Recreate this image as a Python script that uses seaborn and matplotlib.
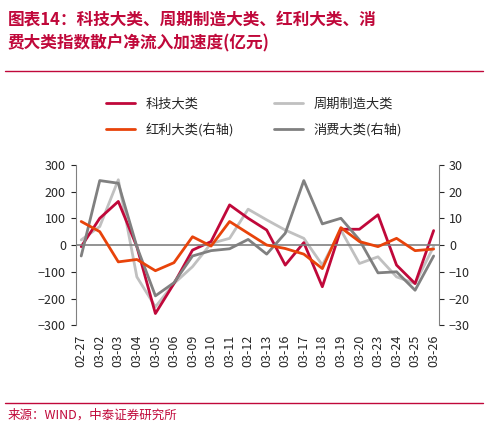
import numpy as np
import pandas as pd
import matplotlib.pyplot as plt
import seaborn as sns

dates = ['02-27', '03-02', '03-03', '03-04', '03-05', '03-06', '03-09', '03-10', '03-11', '03-12',
         '03-13', '03-16', '03-17', '03-18', '03-19', '03-20', '03-23', '03-24', '03-25', '03-26']
tech = [-6, 100, 163, -6, -256, -144, -19, 13, 150, 100, 56, -75, 9, -156, 59, 59, 113, -75, -144, 54]
cycle = [19, 69, 244, -119, -231, -144, -81, 6, 25, 134, 94, 56, 25, -75, 56, -69, -44, -119, -144, -6]
dividend = [8.8, 5, -6.3, -5.4, -9.6, -6.6, 3.1, -0.4, 8.8, 4.4, 0, -1.3, -3.4, -8.8, 6.5, 1.3, -0.6, 2.5, -2.1, -1.5]
consume = [-4.1, 24.1, 23.1, -0.6, -19, -14.1, -4.1, -2.1, -1.4, 2.1, -3.4, 4.4, 24.1, 7.9, 10, 1.9, -10.4, -10, -16.9, -4.1]

sns.set_style('white')
plt.rcParams['font.family'] = ['Noto Sans CJK SC', 'DejaVu Sans']

fig = plt.figure(figsize=(4.88, 4.28), dpi=100)
ax = fig.add_axes([0.155, 0.24, 0.745, 0.375])
ax2 = ax.twinx()
x = np.arange(len(dates))
df = pd.DataFrame({'x': x, 'tech': tech, 'cycle': cycle, 'div': dividend, 'con': consume})

sns.lineplot(data=df, x='x', y='cycle', ax=ax, color='#c0c0c0', lw=2, label='周期制造大类', legend=False)
sns.lineplot(data=df, x='x', y='tech', ax=ax, color='#c0083a', lw=2, label='科技大类', legend=False)
sns.lineplot(data=df, x='x', y='con', ax=ax2, color='#808080', lw=2, label='消费大类(右轴)', legend=False)
sns.lineplot(data=df, x='x', y='div', ax=ax2, color='#e8430a', lw=2, label='红利大类(右轴)', legend=False)

ax.set_ylim(-300, 300)
ax2.set_ylim(-30, 30)
ax.set_yticks(range(-300, 301, 100))
ax2.set_yticks(range(-30, 31, 10))
ax.axhline(0, color='#808080', lw=1.2)
ax.set_xlim(-0.3, len(dates) - 0.7)
ax.set_xticks(x)
ax.set_xticklabels(dates, rotation=90, fontsize=9)
ax.tick_params(axis='y', labelsize=9)
ax2.tick_params(axis='y', labelsize=9)
for a in (ax, ax2):
    a.set_xlabel('')
    a.set_ylabel('')
    for s in a.spines.values():
        s.set_visible(False)
ax.spines['left'].set_visible(True)
ax2.spines['right'].set_visible(True)
ax.spines['left'].set_color('#808080')
ax2.spines['right'].set_color('#808080')

h1, l1 = ax.get_legend_handles_labels()
h2, l2 = ax2.get_legend_handles_labels()
handles = [h1[1], h2[1], h1[0], h2[0]]
labels = [l1[1], l2[1], l1[0], l2[0]]
fig.legend(handles, labels, ncol=2, loc='upper center', bbox_to_anchor=(0.52, 0.8),
           frameon=False, fontsize=9.5, columnspacing=3, handlelength=2.2, labelspacing=0.9)

fig.text(0.015, 0.975, '图表14：科技大类、周期制造大类、红利大类、消\n费大类指数散户净流入加速度(亿元)',
         color='#c0083a', fontsize=12, fontweight='bold', style='italic', va='top', linespacing=1.4)
fig.add_artist(plt.Line2D([0.01, 0.99], [0.835, 0.835], color='#c0083a', lw=1))
fig.add_artist(plt.Line2D([0.01, 0.99], [0.058, 0.058], color='#c0083a', lw=1))
fig.text(0.015, 0.03, '来源：WIND，中泰证券研究所', color='#c0083a', fontsize=9, va='center')

fig.savefig('out.png', dpi=100)
